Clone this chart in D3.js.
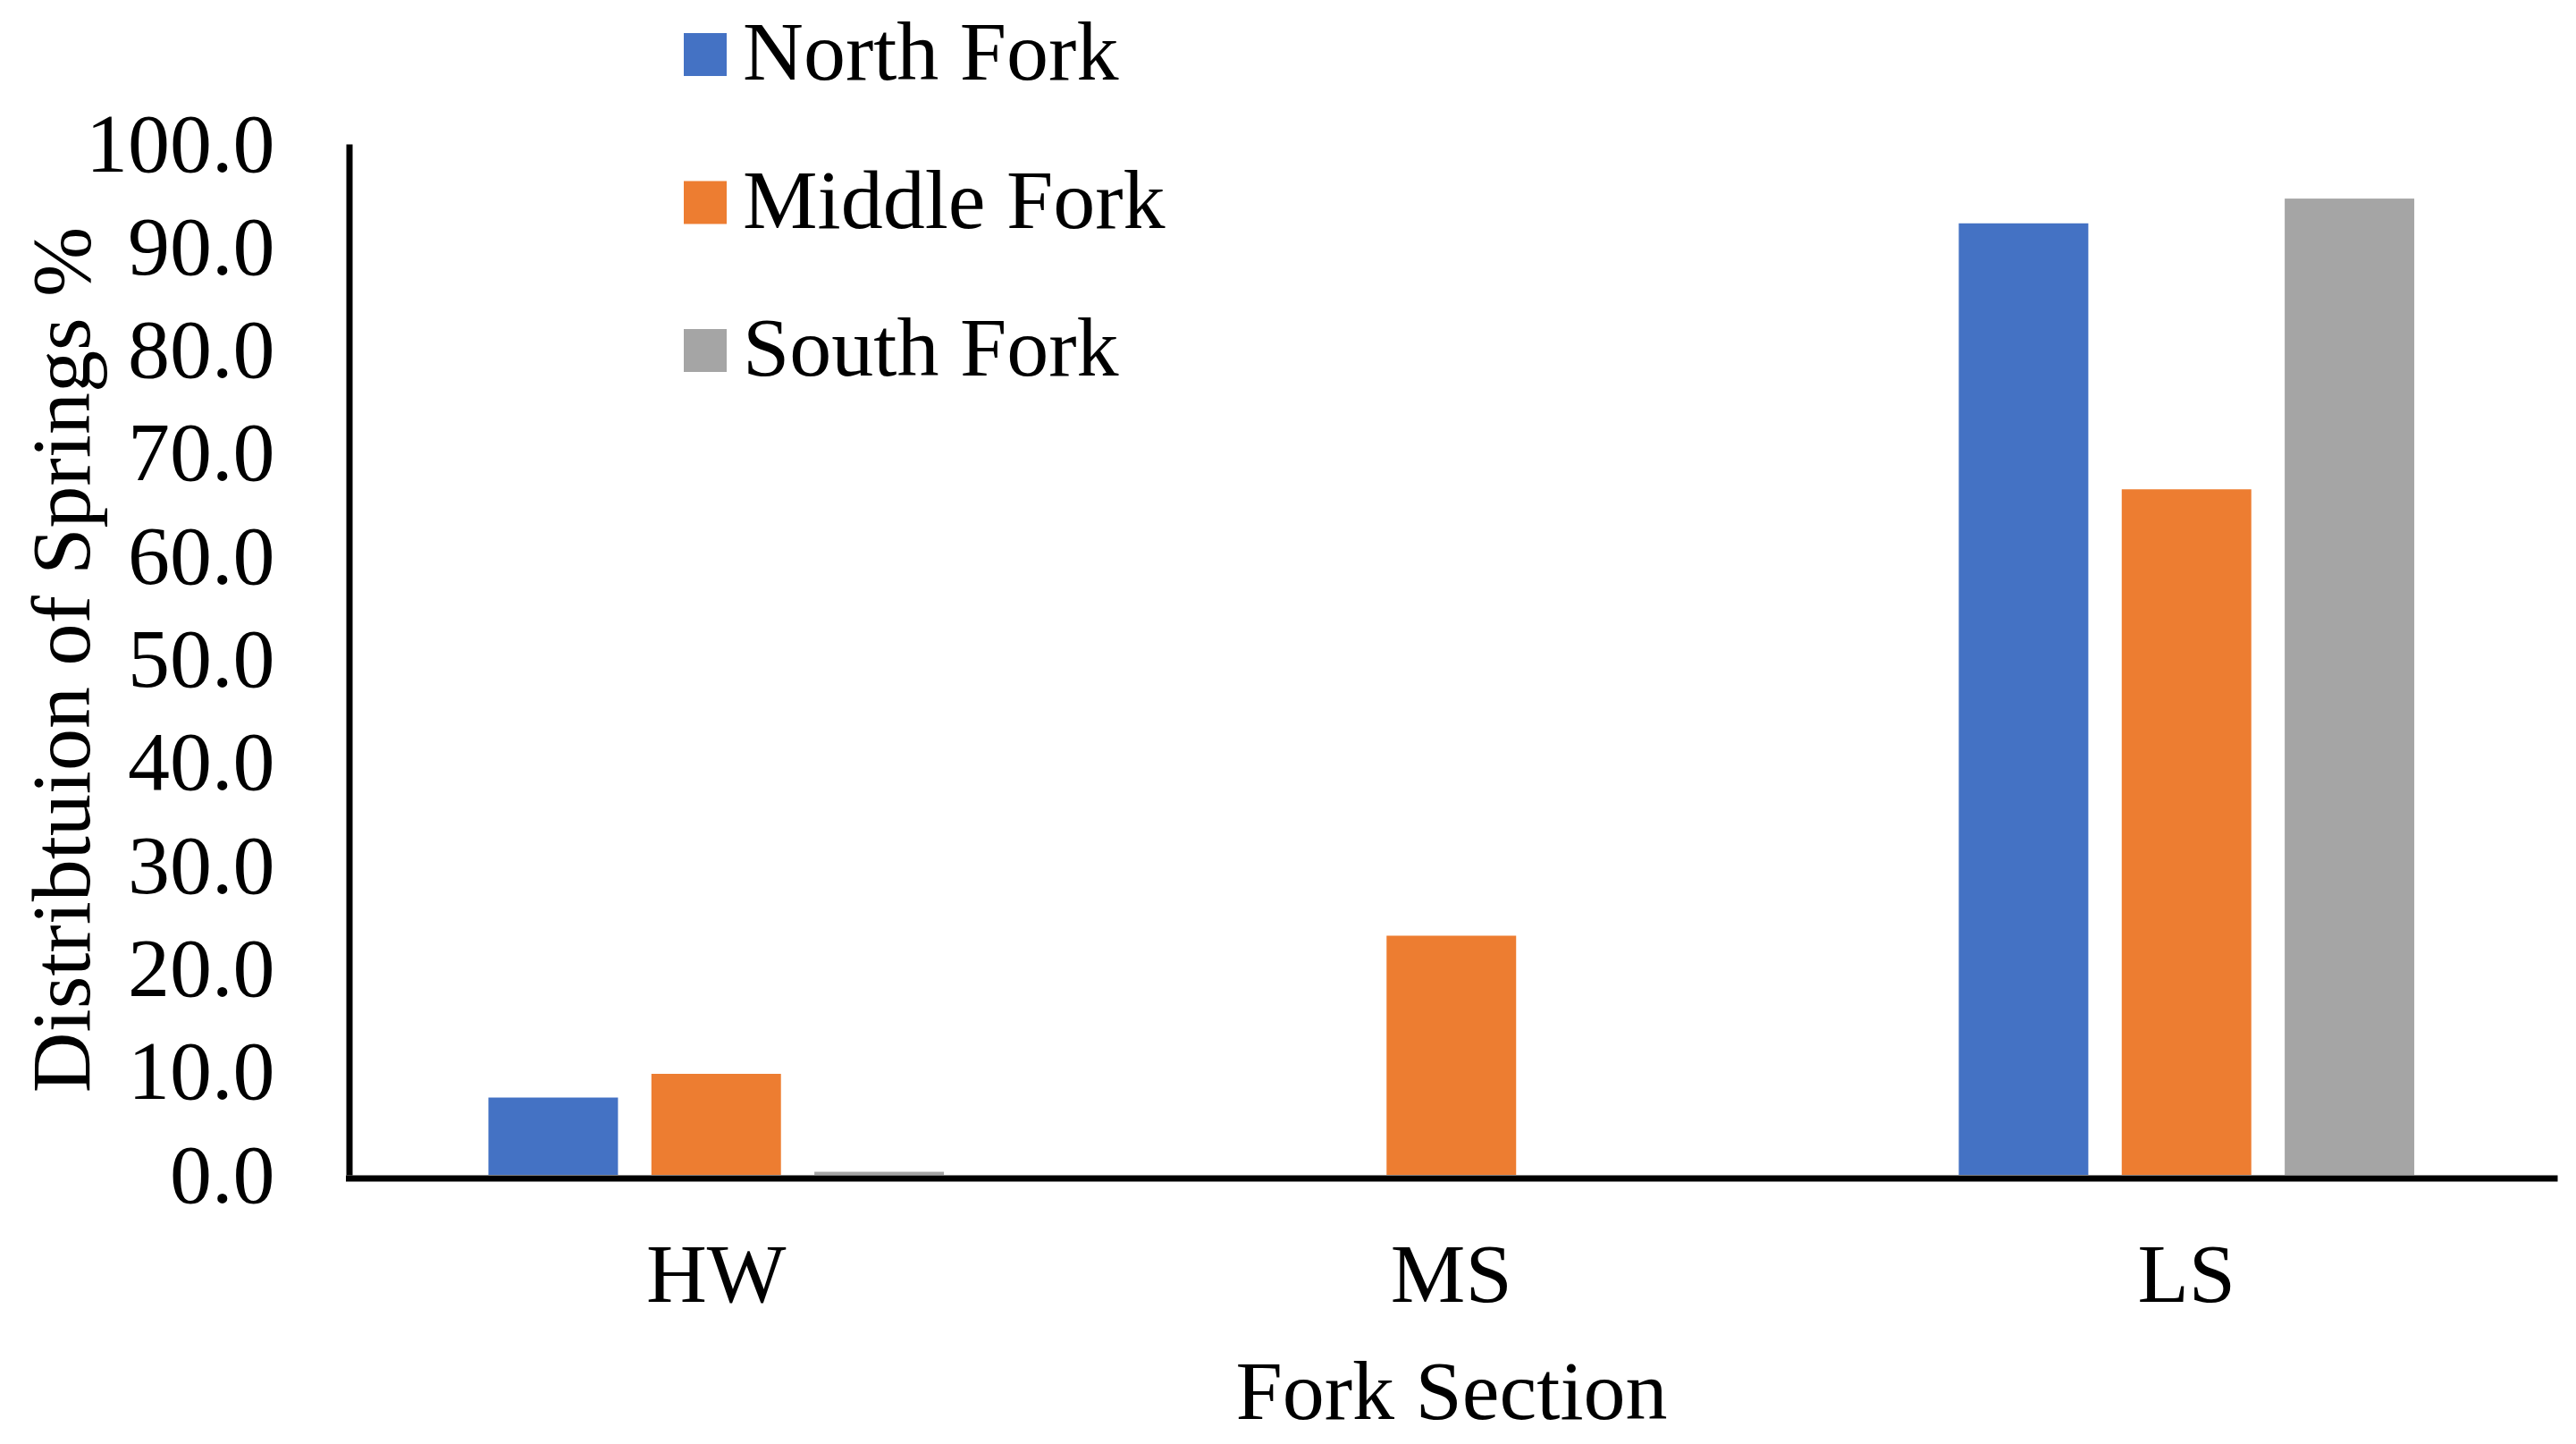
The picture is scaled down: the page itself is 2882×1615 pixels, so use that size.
<!DOCTYPE html>
<html>
<head>
<meta charset="utf-8">
<script src="https://cdn.jsdelivr.net/npm/d3@7"></script>
<style>
  body { margin: 0; background: #fff; }
  text { font-family: "Liberation Serif", "Times New Roman", serif; fill: #000; }
</style>
</head>
<body>
<svg id="chart"></svg>
<script>

var categories = ["HW", "MS", "LS"];
var seriesNames = ["North Fork", "Middle Fork", "South Fork"];
var northFork = [7.5, 0, 92.3];
var middleFork = [9.8, 23.2, 66.5];
var southFork = [0.3, 0, 94.7];
var yTicks = [0, 10, 20, 30, 40, 50, 60, 70, 80, 90, 100];
var colors = ["#4472C4", "#ED7D31", "#A5A5A5"];

var seriesValues = [northFork, middleFork, southFork];

var width = 2882
  , height = 1615
  , fontSize = 94
  , plotLeft = 390
  , plotRight = 2857.5
  , plotTop = 161
  , plotBottom = 1314;

var chart = d3.select("#chart").attr("width", width).attr("height", height);

// scales
var y = d3.scaleLinear().domain([0, 100]).range([plotBottom, plotTop]);

var x0 = d3.scaleBand()
          .domain(categories)
          .range([plotLeft, plotRight])
          .padding(0);

var x1 = d3.scaleBand()
          .domain(seriesNames)
          .range([0, x0.bandwidth()])
          .paddingInner(0.205)
          .paddingOuter(0.858);

// bars
var group = chart.selectAll("g.cat")
    .data(categories)
    .enter().append("g")
    .attr("class", "cat")
    .attr("transform", function(d){ return "translate(" + x0(d) + ",0)"; });

group.selectAll("rect")
    .data(function(d, i){
      return seriesNames.map(function(name, j){
        return {name: name, value: seriesValues[j][i], color: colors[j]};
      });
    })
    .enter().append("rect")
    .attr("x", function(d){ return x1(d.name); })
    .attr("y", function(d){ return y(d.value); })
    .attr("width", x1.bandwidth())
    .attr("height", function(d){ return y(0) - y(d.value); })
    .attr("fill", function(d){ return d.color; });

// y axis
var yAxis = d3.axisLeft(y)
            .tickValues(yTicks)
            .tickFormat(d3.format(".1f"))
            .tickSize(0)
            .tickPadding(83);

var gy = chart.append("g")
    .attr("transform", "translate(" + (plotLeft + 0.5) + ",0)")
    .call(yAxis);
gy.select(".domain").attr("stroke", "#000").attr("stroke-width", 7);
gy.selectAll("text").attr("font-size", fontSize).style("font-family", "Liberation Serif");

// x axis
var xAxis = d3.axisBottom(x0).tickSize(0).tickSizeOuter(0).tickPadding(72);

var gx = chart.append("g")
    .attr("transform", "translate(0," + (plotBottom + 3.5) + ")")
    .call(xAxis);
gx.select(".domain").attr("stroke", "#000").attr("stroke-width", 7).attr("stroke-linecap", "square");
gx.selectAll("text").attr("font-size", fontSize).style("font-family", "Liberation Serif");

// axis titles
chart.append("text")
    .attr("x", 1624)
    .attr("y", 1587)
    .attr("text-anchor", "middle")
    .attr("font-size", fontSize)
    .text("Fork Section");

chart.append("text")
    .attr("transform", "translate(100,738) rotate(-90)")
    .attr("text-anchor", "middle")
    .attr("font-size", fontSize)
    .text("Distribtuion of Springs %");

// legend
var legend = chart.selectAll("g.legend")
    .data(seriesNames)
    .enter().append("g")
    .attr("class", "legend")
    .attr("transform", function(d, i){ return "translate(765," + (61 + i * 165.5) + ")"; });

legend.append("rect")
    .attr("x", 0)
    .attr("y", -24)
    .attr("width", 48)
    .attr("height", 48)
    .attr("fill", function(d, i){ return colors[i]; });

legend.append("text")
    .attr("x", 66)
    .attr("y", 28)
    .attr("font-size", fontSize)
    .text(function(d){ return d; });

</script>
</body>
</html>
